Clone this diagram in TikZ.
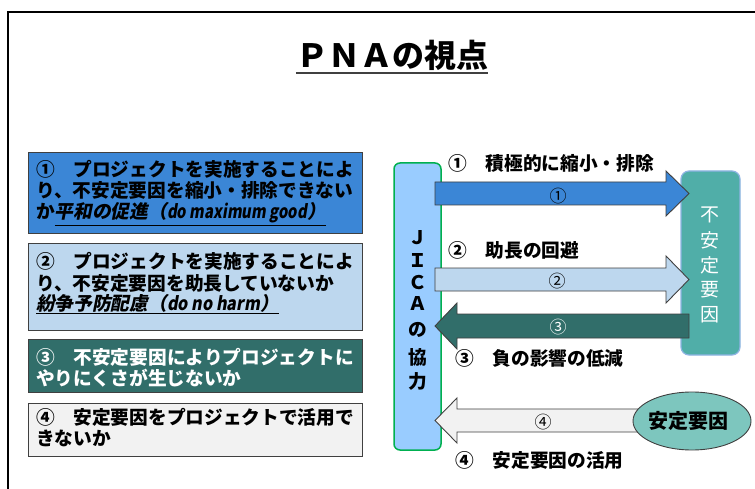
\documentclass[tikz,border=0pt]{standalone}
\usepackage{fontspec}
\usepackage{graphicx}
\setmainfont{Noto Sans CJK JP}
\newfontfamily\jpit[FakeSlant=0.2]{Noto Sans CJK JP}
\usetikzlibrary{shapes.geometric}
\definecolor{boxA}{HTML}{3B86D6}
\definecolor{boxB}{HTML}{BDD7EE}
\definecolor{boxC}{HTML}{316E6A}
\definecolor{boxD}{HTML}{F2F2F2}
\definecolor{jicafill}{HTML}{99CCFF}
\definecolor{jicaline}{HTML}{00B050}
\definecolor{unstfill}{HTML}{50AEA8}
\definecolor{unstline}{HTML}{8EB4E3}
\definecolor{stfill}{HTML}{7DC6BE}
\definecolor{edge}{HTML}{404040}
\begin{document}
\begin{tikzpicture}[x=1pt,y=-1pt,
  box/.style={draw=edge, line width=0.9pt},
  blockarrow/.style={draw=edge, line width=0.9pt, line join=miter},
  lt/.style={anchor=base west, inner sep=0pt, font=\fontsize{18.7}{21}\selectfont\bfseries},
  vt/.style={anchor=center, inner sep=0pt, font=\fontsize{18.7}{21}\selectfont\bfseries},
  ut/.style={anchor=center, inner sep=0pt, text=white, font=\fontsize{19}{21}\selectfont},
  al/.style={anchor=center, inner sep=0pt, font=\fontsize{17}{19}\selectfont}
]
\useasboundingbox (0,0) rectangle (755,489);
\fill[white] (0,0) rectangle (755,489);
\draw[line width=2pt] (8,490) -- (8,12) -- (757,12);

% title
\node[inner sep=0pt, font=\fontsize{32}{36}\selectfont\bfseries] (title) at (392,55) {ＰＮＡの視点};
\draw[edge, line width=2pt] (title.west |- 0,73) -- (title.east |- 0,73);

% left boxes
\draw[box, fill=boxA] (28,152) rectangle (362,233);
\node[lt] (t1a) at (36,177) {①　プロジェクトを実施することによ};
\node[lt] (t1b) at (36,198) {り、不安定要因を縮小・排除できない};
\node[lt] (t1c) at (36,219) {か{\jpit\underline{平和の促進（\resizebox{140pt}{\height}{do maximum good}）}}};

\draw[box, fill=boxB] (28,243) rectangle (362,330);
\node[lt] (t2a) at (36,269) {②　プロジェクトを実施することによ};
\node[lt] (t2b) at (36,290) {り、不安定要因を助長していないか};
\node[lt] (t2c) at (36,310) {{\jpit\underline{紛争予防配慮（\resizebox{93pt}{\height}{do no harm}）}}};

\draw[box, fill=boxC] (28,339) rectangle (362,392);
\node[lt, text=white] (t3a) at (36,364) {③　不安定要因によりプロジェクトに};
\node[lt, text=white] (t3b) at (36,385) {やりにくさが生じないか};

\draw[box, fill=boxD] (28,403) rectangle (362,456);
\node[lt] (t4a) at (36,424) {④　安定要因をプロジェクトで活用で};
\node[lt] (t4b) at (36,445) {きないか};

% JICA box
\draw[draw=jicaline, fill=jicafill, line width=1.5pt, rounded corners=6pt] (394,163) rectangle (441,450);
\node[vt] (j1) at (418,238) {Ｊ};
\node[vt] (j2) at (418,261) {Ｉ};
\node[vt] (j3) at (418,283) {Ｃ};
\node[vt] (j4) at (418,304) {Ａ};
\node[vt] (j5) at (418,330) {の};
\node[vt] (j6) at (418,357) {協};
\node[vt] (j7) at (418,381) {力};

% unstable factors box
\draw[draw=unstline, fill=unstfill, line width=1.2pt, rounded corners=8pt] (681,171) rectangle (740,355);
\node[ut] (u1) at (710,215) {不};
\node[ut] (u2) at (710,240) {安};
\node[ut] (u3) at (710,265) {定};
\node[ut] (u4) at (710,290) {要};
\node[ut] (u5) at (710,315) {因};

% block arrows
\draw[blockarrow, fill=boxA] (435,182) -- (666,182) -- (666,171) -- (689,193.5) -- (666,216) -- (666,205) -- (435,205) -- cycle;
\draw[blockarrow, fill=boxB] (435,268) -- (666,268) -- (666,256) -- (689,279.5) -- (666,303) -- (666,291) -- (435,291) -- cycle;
\draw[blockarrow, fill=boxC] (689,314) -- (457,314) -- (457,303) -- (435,326) -- (457,349) -- (457,338) -- (689,338) -- cycle;
\draw[blockarrow, fill=boxD] (640,409) -- (457,409) -- (457,398) -- (435,420.5) -- (457,443) -- (457,432) -- (640,432) -- cycle;

\node[al] (a1) at (558,196) {①};
\node[al] (a2) at (557,281) {②};
\node[al, text=white] (a3) at (558,327) {③};
\node[al] (a4) at (543,422) {④};

% stable factors
\node[ellipse, draw=edge, line width=0.9pt, fill=stfill, minimum width=118pt, minimum height=58pt, inner sep=0pt] (stable) at (692,421) {};
\node[inner sep=0pt, font=\fontsize{20}{22}\selectfont\bfseries] (stablet) at (688,421) {安定要因};

% right labels
\node[lt] (r1) at (448,171) {①　積極的に縮小・排除};
\node[lt] (r2) at (448,258) {②　助長の回避};
\node[lt] (r3) at (455,365) {③　負の影響の低減};
\node[lt] (r4) at (455,467) {④　安定要因の活用};
\end{tikzpicture}
\end{document}
